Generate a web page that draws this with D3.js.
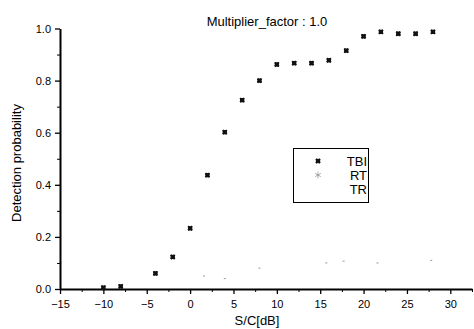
<!DOCTYPE html>
<html>
<head>
<meta charset="utf-8">
<script src="https://cdn.jsdelivr.net/npm/d3@7"></script>
<style>
  html, body { margin: 0; padding: 0; background: #fff; }
  svg { display: block; font-family: "Liberation Sans", Arial, sans-serif; }
</style>
</head>
<body>
<svg id="chart" width="474" height="329"></svg>
<script>
// ---- data ----
const tbiX = [-10, -8, -4, -2, 0, 2, 4, 6, 8, 10, 12, 14, 16, 18, 20, 22, 24, 26, 28];
const tbiY = [0.005, 0.01, 0.06, 0.123, 0.233, 0.437, 0.602, 0.725, 0.80, 0.862, 0.867, 0.867, 0.878, 0.915, 0.97, 0.987, 0.98, 0.98, 0.987];
const rtX = [1.6, 4, 8, 15.7, 17.7, 21.6, 27.8];
const rtY = [0.05, 0.04, 0.08, 0.10, 0.107, 0.10, 0.11];
const trX = [];
const trY = [];
const xTicks = [-15, -10, -5, 0, 5, 10, 15, 20, 25, 30];
const xMinor = [-12.5, -7.5, -2.5, 2.5, 7.5, 12.5, 17.5, 22.5, 27.5, 32.5];
const yTicks = [0, 0.2, 0.4, 0.6, 0.8, 1.0];
const yMinor = [0.1, 0.3, 0.5, 0.7, 0.9];
const seriesNames = ["TBI", "RT", "TR"];
const titleText = "Multiplier_factor : 1.0";
const xLabel = "S/C[dB]";
const yLabel = "Detection probability";

// ---- layout ----
const svg = d3.select("#chart");
const x = d3.scaleLinear().domain([-15, 32.5]).range([60, 472]);
const y = d3.scaleLinear().domain([0, 1]).range([289, 28.5]);

// X axis
const gx = svg.append("g").attr("transform", `translate(0,${y(0)})`);
gx.call(d3.axisBottom(x).tickValues(xTicks).tickSize(5).tickSizeOuter(0).tickPadding(6)
  .tickFormat(d => d3.format("d")(d)));
gx.select(".domain").attr("stroke-width", 2).attr("stroke", "#000");
gx.selectAll(".tick line").attr("stroke-width", 1.3);
gx.selectAll(".tick text").attr("font-size", 11).attr("font-family", "Liberation Sans, Arial, sans-serif").attr("fill", "#000");
const gxm = svg.append("g").attr("transform", `translate(0,${y(0)})`);
gxm.call(d3.axisBottom(x).tickValues(xMinor).tickSize(3).tickFormat(""));
gxm.select(".domain").remove();

// Y axis
const gy = svg.append("g").attr("transform", `translate(${x(-15)},0)`);
gy.call(d3.axisLeft(y).tickValues(yTicks).tickSize(5).tickSizeOuter(0).tickPadding(4)
  .tickFormat(d3.format(".1f")));
gy.select(".domain").attr("stroke-width", 2).attr("stroke", "#000");
gy.selectAll(".tick line").attr("stroke-width", 1.3);
gy.selectAll(".tick text").attr("font-size", 11).attr("font-family", "Liberation Sans, Arial, sans-serif").attr("fill", "#000");
const gym = svg.append("g").attr("transform", `translate(${x(-15)},0)`);
gym.call(d3.axisLeft(y).tickValues(yMinor).tickSize(3).tickFormat(""));
gym.select(".domain").remove();

// Title
svg.append("text").attr("x", 267).attr("y", 26).attr("text-anchor", "middle")
  .attr("font-size", 13).text(titleText);

// Axis labels
svg.append("text").attr("x", 257).attr("y", 325).attr("text-anchor", "middle")
  .attr("font-size", 13).text(xLabel);
svg.append("text").attr("transform", "translate(21,163) rotate(-90)").attr("text-anchor", "middle")
  .attr("font-size", 13).text(yLabel);

// Markers
const sq = d3.symbol().type(d3.symbolSquare).size(18);
const star = d3.symbol().type(d3.symbolAsterisk || d3.symbolCross).size(30);
const tbi = tbiX.map((v, i) => ({ x: v, y: tbiY[i] }));
const rt = rtX.map((v, i) => ({ x: v, y: rtY[i] }));
const tr = trX.map((v, i) => ({ x: v, y: trY[i] }));

svg.append("g").selectAll("path.tbi").data(tbi).join("path")
  .attr("transform", d => `translate(${x(d.x)},${y(d.y)})`)
  .attr("d", sq).attr("fill", "#111");
svg.append("g").selectAll("path.tbi2").data(tbi).join("path")
  .attr("transform", d => `translate(${x(d.x)},${y(d.y)}) rotate(45)`)
  .attr("d", d3.symbol().type(d3.symbolCross).size(18)).attr("fill", "#111");

svg.append("g").selectAll("rect.rt").data(rt).join("rect")
  .attr("x", d => x(d.x) - 1).attr("y", d => y(d.y) - 0.5)
  .attr("width", 2).attr("height", 1).attr("fill", "#999");

svg.append("g").selectAll("path.tr").data(tr).join("path")
  .attr("transform", d => `translate(${x(d.x)},${y(d.y)})`)
  .attr("d", sq).attr("fill", "#ddd");

// Legend
const lg = svg.append("g");
lg.append("rect").attr("x", 293.5).attr("y", 148.5).attr("width", 75).attr("height", 54)
  .attr("fill", "#fff").attr("stroke", "#000").attr("stroke-width", 1);
const legendY = [161, 175, 189];
seriesNames.forEach((name, i) => {
  lg.append("text").attr("x", 367).attr("y", legendY[i] + 5).attr("text-anchor", "end")
    .attr("font-size", 13).text(name);
});
lg.append("path").attr("transform", `translate(318,${legendY[0]})`).attr("d", sq).attr("fill", "#111");
lg.append("path").attr("transform", `translate(318,${legendY[0]}) rotate(45)`)
  .attr("d", d3.symbol().type(d3.symbolCross).size(18)).attr("fill", "#111");
lg.append("path").attr("transform", `translate(318,${legendY[1]})`)
  .attr("d", star).attr("fill", "#777").attr("stroke", "#777").attr("stroke-width", 0.6);
</script>
</body>
</html>
